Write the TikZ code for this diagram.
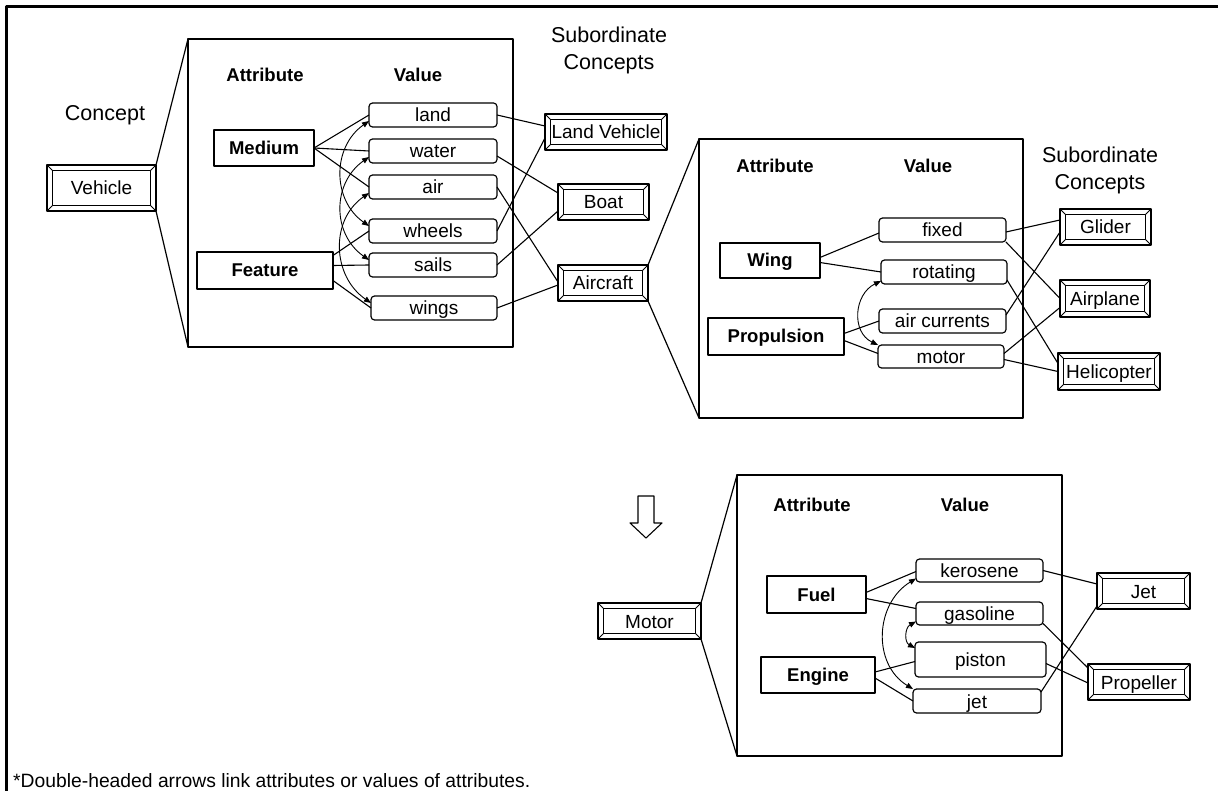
\documentclass[tikz,border=0pt]{standalone}
\usepackage{fontspec}
\setmainfont{Liberation Sans}
\usetikzlibrary{arrows.meta}
\newcommand\valfont{\fontsize{19}{22}\selectfont}
\newcommand\attfont{\fontsize{18.5}{22}\selectfont\bfseries}
\newcommand\hdfont{\fontsize{21.5}{26}\selectfont}
\newcommand\notefont{\fontsize{19.3}{23}\selectfont}
\tikzset{
  frameline/.style={line width=2.6pt},
  bigbox/.style={draw, line width=1.3pt, inner sep=0pt, outer sep=0pt},
  zoomline/.style={line width=1.2pt},
  link/.style={line width=1.1pt},
  pairlink/.style={line width=0.9pt,
    {Triangle[length=7pt,width=5.5pt]}-{Triangle[length=7pt,width=5.5pt]}},
  valbox/.style={draw, line width=1.2pt, rounded corners=3.5pt, fill=white,
    inner sep=0pt, outer sep=0pt, font=\valfont, text height=16pt, text depth=2pt},
  attbox/.style={draw, line width=1.2pt, fill=white, inner sep=0pt, outer sep=0pt,
    font=\attfont, text height=15pt, text depth=2pt},
  conceptbox/.style={draw, line width=1.3pt, fill=white, inner sep=0pt, outer sep=0pt,
    font=\valfont, text height=16pt, text depth=2pt,
    path picture={
      \draw[line width=1.1pt]
        ([shift={(5.5pt,5.5pt)}]path picture bounding box.south west) rectangle
        ([shift={(-5.5pt,-5.5pt)}]path picture bounding box.north east);
      \draw[line width=0.8pt]
        (path picture bounding box.south west) -- ++(5.5pt,5.5pt)
        (path picture bounding box.south east) -- ++(-5.5pt,5.5pt)
        (path picture bounding box.north west) -- ++(5.5pt,-5.5pt)
        (path picture bounding box.north east) -- ++(-5.5pt,-5.5pt);
    }},
  coltitle/.style={anchor=base, font=\attfont, inner sep=0pt},
  hdtext/.style={anchor=base, font=\hdfont, inner sep=0pt},
}
\begin{document}
\begin{tikzpicture}[x=1pt, y=-1pt, line join=round]
\useasboundingbox (0,0) rectangle (1218,791);

% outer frame (top and left edges)
\coordinate (fbl) at (6.5,791);
\coordinate (ftl) at (6.5,6.5);
\coordinate (ftr) at (1218,6.5);
\draw[frameline] (fbl) -- (ftl) -- (ftr);

% ---------------- Vehicle ----------------
\node[hdtext] (conceptlbl) at (105,121) {Concept};
\node[conceptbox, minimum width=109pt, minimum height=46pt] (vehicle) at (101.5,188) {Vehicle};
\node[bigbox, minimum width=325pt, minimum height=308pt] (box1) at (350.5,193) {};
\draw[zoomline] (vehicle.north east) -- (box1.north west);
\draw[zoomline] (vehicle.south east) -- (box1.south west);

\node[coltitle] (att1) at (265,82) {Attribute};
\node[coltitle] (val1) at (418,82) {Value};
\node[attbox, minimum width=100pt, minimum height=36pt] (medium) at (264,148) {Medium};
\node[attbox, minimum width=136pt, minimum height=37pt] (feature) at (265,270.5) {Feature};

\node[valbox, minimum width=128pt, minimum height=24pt] (land) at (433,115) {land};
\node[valbox, minimum width=128pt, minimum height=24pt] (water) at (433,151) {water};
\node[valbox, minimum width=128pt, minimum height=24pt] (air) at (433,187) {air};
\node[valbox, minimum width=128pt, minimum height=24pt] (wheels) at (433,231) {wheels};
\node[valbox, minimum width=128pt, minimum height=24pt] (sails) at (433,265) {sails};
\node[valbox, minimum width=126pt, minimum height=24pt] (wings) at (434,308) {wings};

\draw[link] (medium.east) -- (land.west);
\draw[link] (medium.east) -- (water.west);
\draw[link] (medium.east) -- (air.west);
\draw[link] ([yshift=15pt]feature.east) -- (wheels.west);
\draw[link] ([yshift=5pt]feature.east) -- (sails.west);
\draw[link] ([yshift=-10pt]feature.east) -- (wings.west);

\draw[pairlink] ([yshift=-6pt]land.west) .. controls +(-37,26) and +(-37,-26) .. ([yshift=5pt]wheels.west);
\draw[pairlink] ([yshift=-6pt]water.west) .. controls +(-37,26) and +(-37,-26) .. ([yshift=5pt]sails.west);
\draw[pairlink] ([yshift=-6pt]air.west) .. controls +(-39,27) and +(-39,-27) .. ([yshift=5pt]wings.west);

\node[hdtext] (sub1a) at (609,43) {Subordinate};
\node[hdtext] (sub1b) at (609,70) {Concepts};
\node[conceptbox, minimum width=122pt, minimum height=36pt] (landveh) at (606,132) {Land Vehicle};
\node[conceptbox, minimum width=91pt, minimum height=36pt] (boat) at (603.5,202) {Boat};
\node[conceptbox, minimum width=90pt, minimum height=36pt] (aircraft) at (603,283) {Aircraft};

\draw[link] (land.east) -- ([yshift=6pt]landveh.west);
\draw[link] (wheels.east) -- ([yshift=-6pt]landveh.west);
\draw[link] ([yshift=-5pt]water.east) -- ([yshift=9pt]boat.west);
\draw[link] (sails.east) -- ([yshift=-9pt]boat.west);
\draw[link] (air.east) -- ([yshift=1pt]aircraft.west);
\draw[link] (wings.east) -- ([yshift=-2pt]aircraft.west);

% ---------------- Aircraft ----------------
\node[bigbox, minimum width=324pt, minimum height=279pt] (box2) at (861,278.5) {};
\draw[zoomline] (aircraft.north east) -- (box2.north west);
\draw[zoomline] (aircraft.south east) -- (box2.south west);

\node[coltitle] (att2) at (775,173) {Attribute};
\node[coltitle] (val2) at (928,173) {Value};
\node[attbox, minimum width=100pt, minimum height=35pt] (wing) at (770,260.5) {Wing};
\node[attbox, minimum width=136pt, minimum height=37pt] (propulsion) at (776,336.5) {Propulsion};

\node[valbox, minimum width=127pt, minimum height=24pt] (fixed) at (942.5,230) {fixed};
\node[valbox, minimum width=126pt, minimum height=24pt] (rotating) at (944,272) {rotating};
\node[valbox, minimum width=127pt, minimum height=24pt] (aircur) at (942.5,321) {air currents};
\node[valbox, minimum width=126pt, minimum height=23pt] (motorval) at (941,356.5) {motor};

\draw[link] ([yshift=3pt]wing.east) -- ([yshift=-3pt]fixed.west);
\draw[link] ([yshift=-2pt]wing.east) -- (rotating.west);
\draw[link] ([yshift=3pt]propulsion.east) -- (aircur.west);
\draw[link] ([yshift=-4pt]propulsion.east) -- ([yshift=3pt]motorval.west);
\draw[pairlink] ([yshift=-9pt]rotating.west) .. controls +(-27,13) and +(-27,-13) .. (motorval.north west);

\node[hdtext] (sub2a) at (1100,163) {Subordinate};
\node[hdtext] (sub2b) at (1100,190) {Concepts};
\node[conceptbox, minimum width=91pt, minimum height=36pt] (glider) at (1105.5,227) {Glider};
\node[conceptbox, minimum width=90pt, minimum height=37pt] (airplane) at (1105,298.5) {Airplane};
\node[conceptbox, minimum width=102pt, minimum height=37pt] (helicopter) at (1109,371.5) {Helicopter};

\draw[link] ([yshift=-2pt]fixed.east) -- ([yshift=7pt]glider.west);
\draw[link] (fixed.south east) -- (airplane.west);
\draw[link] ([yshift=-8pt]rotating.east) -- ([yshift=8pt]helicopter.west);
\draw[link] ([yshift=6pt]aircur.east) -- ([yshift=-5pt]glider.west);
\draw[link] ([yshift=3pt]motorval.east) -- ([yshift=-9pt]airplane.west);
\draw[link] ([yshift=-3pt]motorval.east) -- (helicopter.west);

% ---------------- Motor ----------------
\draw[line width=1.1pt, fill=white] (638,496) -- (654,496) -- (654,523) -- (662,523)
  -- (646,538) -- (630,523) -- (638,523) -- cycle;

\node[conceptbox, minimum width=103pt, minimum height=36pt] (motor) at (649.5,621) {Motor};
\node[bigbox, minimum width=325pt, minimum height=281pt] (box3) at (899.5,615.5) {};
\draw[zoomline] (motor.north east) -- (box3.north west);
\draw[zoomline] (motor.south east) -- (box3.south west);

\node[coltitle] (att3) at (812,511) {Attribute};
\node[coltitle] (val3) at (965,511) {Value};
\node[attbox, minimum width=99pt, minimum height=37pt] (fuel) at (816.5,594.5) {Fuel};
\node[attbox, minimum width=114pt, minimum height=36pt] (engine) at (818,675) {Engine};

\node[valbox, minimum width=127pt, minimum height=23pt] (kerosene) at (979.5,570.5) {kerosene};
\node[valbox, minimum width=127pt, minimum height=23pt] (gasoline) at (979.5,613.5) {gasoline};
\node[valbox, minimum width=131pt, minimum height=35pt] (piston) at (980.5,659.5) {piston};
\node[valbox, minimum width=128pt, minimum height=24pt] (jetval) at (977,701) {jet};

\draw[link] ([yshift=2pt]fuel.east) -- ([yshift=-1pt]kerosene.west);
\draw[link] ([yshift=-4pt]fuel.east) -- ([yshift=5pt]gasoline.west);
\draw[link] ([yshift=3pt]engine.east) -- ([yshift=-2pt]piston.west);
\draw[link] ([yshift=-3pt]engine.east) -- (jetval.west);
\draw[pairlink] ([yshift=-8pt]kerosene.west) .. controls +(-41,25) and +(-41,-25) .. (jetval.north west);
\draw[pairlink] ([yshift=-8pt]gasoline.west) .. controls +(-11,6) and +(-11,-6) .. ([yshift=-6pt]piston.north west);

\node[conceptbox, minimum width=93pt, minimum height=36pt] (jet) at (1143.5,591) {Jet};
\node[conceptbox, minimum width=102pt, minimum height=36pt] (propeller) at (1139,682) {Propeller};

\draw[link] (kerosene.east) -- ([yshift=7pt]jet.west);
\draw[link] ([yshift=9pt]jetval.east) -- ([yshift=-15pt]jet.west);
\draw[link] ([yshift=-10pt]gasoline.east) -- ([yshift=14pt]propeller.west);
\draw[link] ([yshift=-4pt]piston.east) -- ([yshift=-1pt]propeller.west);

% footnote
\node[anchor=base west, font=\notefont, inner sep=0pt] (note) at (13,787)
  {*Double-headed arrows link attributes or values of attributes.};
\end{tikzpicture}
\end{document}
